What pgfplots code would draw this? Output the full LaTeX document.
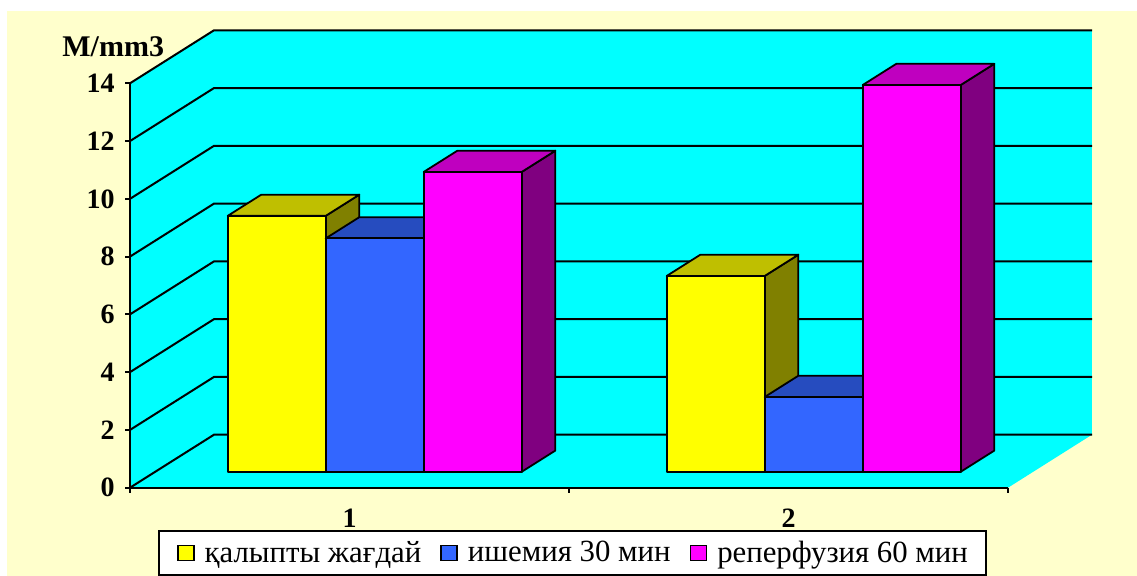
\documentclass[border=0pt]{standalone}
\usepackage{fontspec}
\setmainfont{Liberation Serif}
\usepackage{pgfplots}
\usepackage{pgfplotstable}
\pgfplotsset{compat=1.18}

\definecolor{bgyellow}{HTML}{FFFFCC}
\definecolor{wall}{HTML}{00FFFF}
\definecolor{face0}{HTML}{FFFF00}\definecolor{top0}{HTML}{BFBF00}\definecolor{side0}{HTML}{808000}
\definecolor{face1}{HTML}{3366FF}\definecolor{top1}{HTML}{264CBF}\definecolor{side1}{HTML}{1A3380}
\definecolor{face2}{HTML}{FF00FF}\definecolor{top2}{HTML}{BF00BF}\definecolor{side2}{HTML}{800080}

% category, series, value (M/mm3)
\pgfplotstableread{
cat ser val
1 0 8.86
1 1 8.08
1 2 10.38
2 0 6.78
2 1 2.59
2 2 13.39
}\bardata

% depth of the box (in axis units) and width of one bar
\def\dx{0.19134}
\def\dy{1.8348}
\def\bw{0.22323}

\begin{document}
\begin{tikzpicture}
\begin{axis}[
  width=568.5pt, height=288pt, scale only axis,
  xmin=0.20387, xmax=2.79385, ymin=-3.0569, ymax=16.8836,
  hide axis, clip=false,
  legend image code/.code={\path (0pt,0pt) (13pt,0pt);
    \draw[#1, line width=0.7pt] (0pt,-3.7pt) rectangle (8pt,3.7pt);},
  legend style={at={(axis cs:1.50797,-2.2606)}, anchor=center, draw=black,
    line width=0.8pt, fill=white, font=\rmfamily\fontsize{15.4}{17}\selectfont,
    inner xsep=9pt, inner ysep=5pt,
    nodes={inner sep=0pt},
    /tikz/every odd column/.append style={column sep=0pt},
    /tikz/every even column/.append style={column sep=9.5pt}},
  legend columns=-1,
]
% page background
\addplot[forget plot, fill=white, draw=none] coordinates {(0.20387,-3.0569) (2.79385,-3.0569) (2.79385,16.8836) (0.20387,16.8836)} -- cycle;
\addplot[forget plot, fill=bgyellow, draw=none] coordinates {(0.21982,-3.0569) (2.79385,-3.0569) (2.79385,16.503) (0.21982,16.503)} -- cycle;

% walls and floor
\addplot[forget plot, fill=wall, draw=none] coordinates {(0.5,0) (0.5,14) (0.69134,15.8348) (0.69134,1.8348)} -- cycle;
\addplot[forget plot, fill=wall, draw=none] coordinates {(0.69134,1.8348) (2.69134,1.8348) (2.69134,15.8348) (0.69134,15.8348)} -- cycle;
\addplot[forget plot, fill=wall, draw=none] coordinates {(0.5,0) (2.5,0) (2.69134,1.8348) (0.69134,1.8348)} -- cycle;

% grid lines on the side and back walls
\pgfplotsinvokeforeach{0,2,...,14}{
  \pgfmathsetmacro\gy{#1+\dy}
  \addplot[forget plot, black, line width=1pt] coordinates {(0.5,#1) (0.69134,\gy) (2.69134,\gy)};
}

% bars, drawn left to right: side, top, then front face
\pgfplotsinvokeforeach{0,...,5}{
  \pgfplotstablegetelem{#1}{cat}\of\bardata \let\bcat\pgfplotsretval
  \pgfplotstablegetelem{#1}{ser}\of\bardata \let\bser\pgfplotsretval
  \pgfplotstablegetelem{#1}{val}\of\bardata \let\bval\pgfplotsretval
  \pgfmathsetmacro\xa{\bcat-1.5*\bw+\bser*\bw+0.3*\dx}
  \pgfmathsetmacro\xb{\xa+\bw}
  \pgfmathsetmacro\xc{\xa+0.4*\dx}
  \pgfmathsetmacro\xd{\xb+0.4*\dx}
  \pgfmathsetmacro\ya{0.3*\dy}
  \pgfmathsetmacro\yt{\ya+\bval}
  \pgfmathsetmacro\yab{\ya+0.4*\dy}
  \pgfmathsetmacro\ytb{\yt+0.4*\dy}
  \pgfmathtruncatemacro\si{\bser}
  \edef\drawbar{%
    \noexpand\addplot[forget plot, fill=side\si, draw=black, line width=0.9pt, line join=round]
      coordinates {(\xb,\ya) (\xd,\yab) (\xd,\ytb) (\xb,\yt)} -- cycle;
    \noexpand\addplot[forget plot, fill=top\si, draw=black, line width=0.9pt, line join=round]
      coordinates {(\xa,\yt) (\xb,\yt) (\xd,\ytb) (\xc,\ytb)} -- cycle;
    \noexpand\addplot[forget plot, fill=face\si, draw=black, line width=0.9pt, line join=round]
      coordinates {(\xa,\ya) (\xb,\ya) (\xb,\yt) (\xa,\yt)} -- cycle;
  }\drawbar
}

% front axis lines and ticks
\addplot[forget plot, black, line width=1pt] coordinates {(0.5,14) (0.5,0) (2.5,0)};
\pgfplotsinvokeforeach{0,2,...,14}{
  \addplot[forget plot, black, line width=1pt] coordinates {(0.48861,#1) (0.5,#1)};
  \node[anchor=east, inner sep=0pt, font=\bfseries\fontsize{14}{16}\selectfont] at (axis cs:0.46583,#1) {#1};
}
\pgfplotsinvokeforeach{0.5,1.5,2.5}{
  \addplot[forget plot, black, line width=1pt] coordinates {(#1,0) (#1,-0.1731)};
}
\node[anchor=base, inner sep=0pt, font=\bfseries\fontsize{14}{16}\selectfont] at (axis cs:1,-1.3951) {1};
\node[anchor=base, inner sep=0pt, font=\bfseries\fontsize{14}{16}\selectfont] at (axis cs:2,-1.3951) {2};
\node[anchor=base west, inner sep=0pt, font=\bfseries\fontsize{15}{17}\selectfont] at (axis cs:0.34510,14.910) {M/mm3};

\addlegendimage{fill=face0, draw=black}
\addlegendentry{қалыпты жағдай}
\addlegendimage{fill=face1, draw=black}
\addlegendentry{ишемия 30 мин}
\addlegendimage{fill=face2, draw=black}
\addlegendentry{реперфузия 60 мин}
\end{axis}
\end{tikzpicture}
\end{document}
